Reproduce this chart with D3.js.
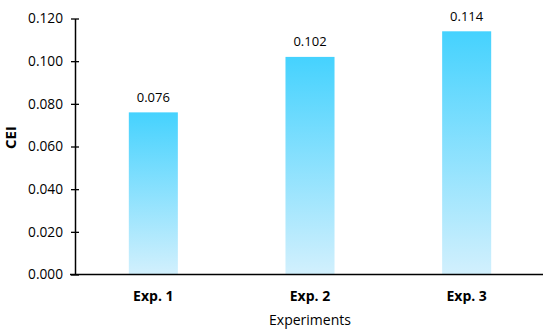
<!DOCTYPE html>
<html>
<head>
<meta charset="utf-8">
<script src="https://cdn.jsdelivr.net/npm/d3@7"></script>
<style>
body { margin: 0; background: #fff; }
text { font-family: "Open Sans", sans-serif; fill: #000; }
</style>
</head>
<body>
<script>
const width = 550;
const height = 334;

const experiments = ["Exp. 1", "Exp. 2", "Exp. 3"];
const cei = [0.076, 0.102, 0.114];
const yTicks = [0, 0.02, 0.04, 0.06, 0.08, 0.10, 0.12];

const margin = {top: 18.5, right: 5, bottom: 59.5, left: 75};

const svg = d3.select("body")
	.append("svg")
	.attr("width", width)
	.attr("height", height);

const defs = svg.append("defs");
const grad = defs.append("linearGradient")
	.attr("id", "barGrad")
	.attr("x1", 0).attr("y1", 0)
	.attr("x2", 0).attr("y2", 1);
grad.append("stop").attr("offset", "0%").attr("stop-color", "#45d2fe");
grad.append("stop").attr("offset", "100%").attr("stop-color", "#d2f0fd");

const x = d3.scaleBand()
	.domain(experiments)
	.range([margin.left, width - margin.right])
	.paddingInner(0.687)
	.paddingOuter(0.3435);

const y = d3.scaleLinear()
	.domain([0, 0.12])
	.range([height - margin.bottom, margin.top]);

// bars
svg.selectAll("rect.bar")
	.data(cei)
	.enter()
	.append("rect")
	.attr("class", "bar")
	.attr("x", (d, i) => x(experiments[i]))
	.attr("y", d => y(d))
	.attr("width", x.bandwidth())
	.attr("height", d => y(0) - y(d))
	.attr("fill", "url(#barGrad)");

// value labels
svg.selectAll("text.val")
	.data(cei)
	.enter()
	.append("text")
	.attr("class", "val")
	.attr("x", (d, i) => x(experiments[i]) + x.bandwidth() / 2)
	.attr("y", d => y(d) - 10.5)
	.attr("text-anchor", "middle")
	.style("font-size", "13px")
	.text(d => d.toFixed(3));

// y axis (ticks cross the line)
const yAxis = svg.append("g")
	.attr("transform", `translate(${margin.left},0)`)
	.call(d3.axisLeft(y).tickValues(yTicks).tickFormat(d3.format(".3f")).tickSize(4).tickSizeOuter(0));
yAxis.select(".domain").attr("stroke", "#000").attr("stroke-width", 1.5);
yAxis.selectAll(".tick line")
	.attr("x1", 4)
	.attr("stroke", "#000").attr("stroke-width", 1.3);
yAxis.selectAll(".tick text")
	.attr("x", -12)
	.style("font-size", "13.7px")
	.style("font-family", "'Open Sans', sans-serif");

// x axis
const xAxis = svg.append("g")
	.attr("transform", `translate(0,${y(0)})`)
	.call(d3.axisBottom(x).tickSize(0).tickSizeOuter(0));
xAxis.select(".domain").attr("stroke", "#000").attr("stroke-width", 1.5)
	.attr("d", `M${margin.left - 5},0H${width - 7}`);
xAxis.selectAll(".tick text")
	.attr("y", 26)
	.attr("dy", null)
	.style("font-size", "14px")
	.style("font-weight", "bold")
	.style("font-family", "'Open Sans', sans-serif");

// axis titles
svg.append("text")
	.attr("x", (margin.left + width - margin.right) / 2)
	.attr("y", 325)
	.attr("text-anchor", "middle")
	.style("font-size", "14px")
	.text("Experiments");

svg.append("text")
	.attr("transform", "translate(16,137.5) rotate(-90)")
	.attr("text-anchor", "middle")
	.style("font-size", "15px")
	.style("font-weight", "bold")
	.text("CEI");
</script>
</body>
</html>
